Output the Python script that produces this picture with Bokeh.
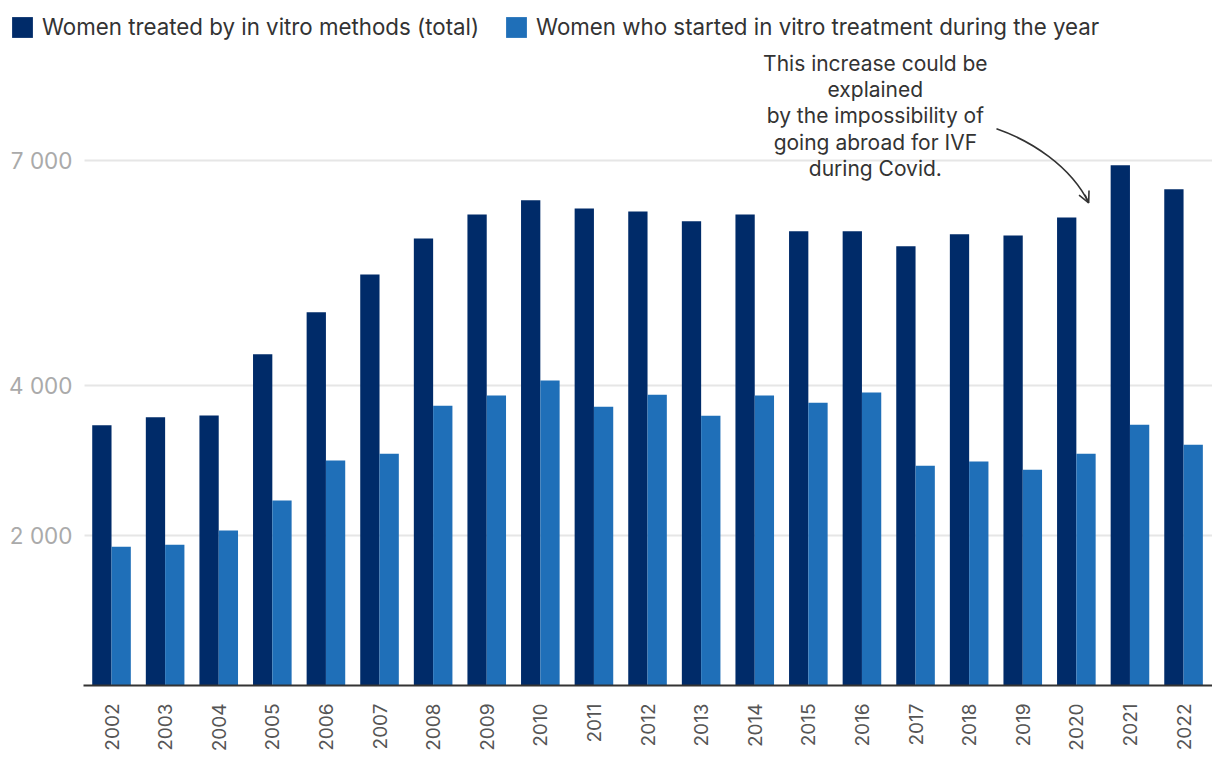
from bokeh.plotting import figure
from bokeh.models import (ColumnDataSource, Range1d, FixedTicker, Legend, LegendItem,
                          Label, Arrow, OpenHead)
from bokeh.transform import dodge
from bokeh.core.properties import value
from bokeh.embed import file_html
from bokeh.resources import INLINE

years = ["2002", "2003", "2004", "2005", "2006", "2007", "2008", "2009", "2010", "2011",
         "2012", "2013", "2014", "2015", "2016", "2017", "2018", "2019", "2020", "2021", "2022"]
total_treated = [3470, 3575, 3600, 4415, 4975, 5480, 5960, 6280, 6470, 6360,
                 6320, 6190, 6280, 6055, 6055, 5855, 6015, 6000, 6240, 6935, 6615]
started_year = [1850, 1875, 2065, 2465, 3000, 3090, 3730, 3865, 4065, 3715,
                3875, 3595, 3865, 3770, 3905, 2930, 2985, 2875, 3090, 3475, 3210]
y_ticks = [2000, 4000, 7000]
y_tick_labels = ["2 000", "4 000", "7 000"]
series_names = ["Women treated by in vitro methods (total)",
                "Women who started in vitro treatment during the year"]
note = "This increase could be\nexplained\nby the impossibility of\ngoing abroad for IVF\nduring Covid."

DARK = "#002B69"
LIGHT = "#1F6FB8"
FONT = "Inter"

X_LO, X_HI = -0.52, 20.54          # extent of the plotting area in category units
src = ColumnDataSource(dict(x=list(range(len(years))), total=total_treated, started=started_year))

p = figure(frame_width=1204, frame_height=685, output_backend="svg", toolbar_location=None,
           x_range=Range1d(-1.922, X_HI), y_range=Range1d(0, 9133),
           y_axis_location=None,
           min_border_left=8, min_border_top=0, min_border_right=0, min_border_bottom=10,
           outline_line_color=None, background_fill_color="white", border_fill_color="white")
p.grid.visible = False

# horizontal gridlines and their labels (drawn inside the frame)
n = len(y_ticks)
p.segment(x0=[X_LO + 0.016] * n, x1=[X_HI] * n, y0=y_ticks, y1=y_ticks,
          line_color="#e6e6e6", line_width=2)
p.text(x=[X_LO + 0.016] * n, y=y_ticks, text=y_tick_labels, x_offset=-12,
       text_align="right", text_baseline="middle", text_font=value(FONT),
       text_font_size="22.5px", text_color="#aaaaaa")

r1 = p.vbar(x=dodge("x", -0.18, range=p.x_range), top="total", width=0.36, source=src,
            fill_color=DARK, line_color=None)
r2 = p.vbar(x=dodge("x", 0.18, range=p.x_range), top="started", width=0.36, source=src,
            fill_color=LIGHT, line_color=None)

xa = p.xaxis[0]
xa.bounds = (X_LO, X_HI)
xa.ticker = FixedTicker(ticks=list(range(len(years))))
xa.major_label_overrides = {i: y for i, y in enumerate(years)}
xa.major_label_orientation = 1.5707963
xa.major_tick_line_color = None
xa.minor_tick_line_color = None
xa.axis_line_color = "#333333"
xa.axis_line_width = 2
xa.major_label_text_font = FONT
xa.major_label_text_font_size = "19px"
xa.major_label_text_color = "#555555"
xa.major_label_standoff = 12

legend = Legend(items=[LegendItem(label=series_names[0], renderers=[r1]),
                       LegendItem(label=series_names[1], renderers=[r2])],
                orientation="horizontal", location=(1, 645),
                glyph_width=26, glyph_height=26, label_standoff=7, spacing=24,
                padding=0, margin=0, border_line_color=None, background_fill_alpha=0,
                label_text_font=FONT, label_text_font_size="22.3px", label_text_color="#333333")
p.add_layout(legend, "center")

p.add_layout(Label(x=14.25, y=8463, text=note, text_align="center", text_baseline="top",
                   text_font=FONT, text_font_size="21px", text_color="#333333",
                   text_line_height=1.05))

p.bezier(x0=[16.51], y0=[7423], cx0=[17.15], cy0=[7263], cx1=[17.89], cy1=[6929],
         x1=[18.23], y1=[6436], line_color="#333333", line_width=1.6)
p.add_layout(Arrow(end=OpenHead(size=11, line_color="#333333", line_width=1.6),
                   x_start=18.16, y_start=6543, x_end=18.23, y_end=6436,
                   line_color="#333333", line_width=1.6))

open("out.html", "w").write(file_html(p, INLINE))
